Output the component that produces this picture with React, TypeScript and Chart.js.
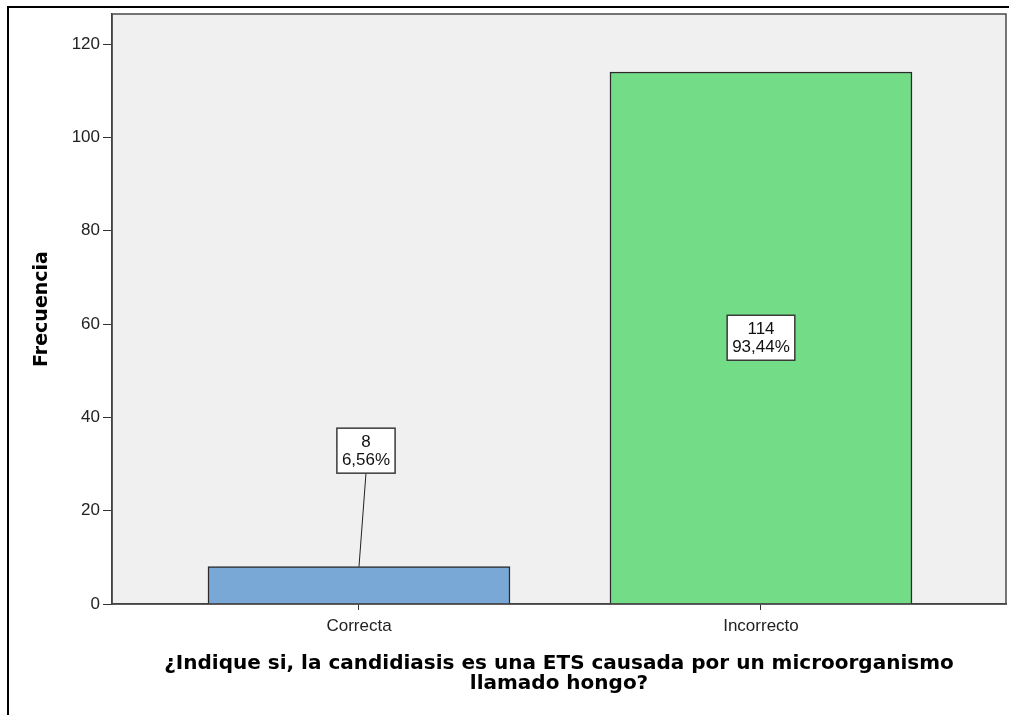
import React, { useEffect, useRef } from 'react';
import { Chart, registerables } from 'chart.js';

Chart.register(...registerables);

const categories = ['Correcta', 'Incorrecto'];
const frequencies = [8, 114];
const percentages = ['6,56%', '93,44%'];
const barColors = ['#79A8D7', '#72DC86'];
const yTickValues = [0, 20, 40, 60, 80, 100, 120];
const yTitle = 'Frecuencia';
const xTitle = ['¿Indique si, la candidiasis es una ETS causada por un microorganismo', 'llamado hongo?'];

const W = 1009;
const H = 715;

const plotFrame = {
  id: 'plotFrame',
  beforeDraw(chart: any) {
    const { ctx, chartArea: a } = chart;
    ctx.save();
    ctx.fillStyle = '#F0F0F0';
    ctx.fillRect(a.left, a.top, a.right - a.left, a.bottom - a.top);
    ctx.restore();
  },
  afterDraw(chart: any) {
    const { ctx, chartArea: a } = chart;
    ctx.save();
    ctx.strokeStyle = '#4a4a4a';
    ctx.lineWidth = 1.5;
    ctx.strokeRect(a.left, a.top, a.right - a.left, a.bottom - a.top);
    ctx.restore();
  },
};

const boxLabels = {
  id: 'boxLabels',
  afterDatasetsDraw(chart: any) {
    const { ctx } = chart;
    const meta = chart.getDatasetMeta(0);
    ctx.save();
    ctx.font = '17px "Liberation Sans", Arial, sans-serif';
    ctx.textAlign = 'center';
    ctx.textBaseline = 'middle';
    meta.data.forEach((bar: any, i: number) => {
      const lines = [String(frequencies[i]), percentages[i]];
      const tw = Math.max(...lines.map((l) => ctx.measureText(l).width));
      const lh = 18;
      const bw = tw + 10;
      const bh = lines.length * lh + 9;
      const barH = bar.base - bar.y;
      let cx = bar.x;
      let cy = (bar.y + bar.base) / 2;
      const outside = barH < bh * 2;
      if (outside) {
        cx = bar.x + 7;
        cy = bar.y - 116;
        ctx.strokeStyle = '#222';
        ctx.lineWidth = 1;
        ctx.beginPath();
        ctx.moveTo(cx, cy + bh / 2);
        ctx.lineTo(bar.x, bar.y);
        ctx.stroke();
      }
      ctx.fillStyle = '#FFFFFF';
      ctx.fillRect(cx - bw / 2, cy - bh / 2, bw, bh);
      ctx.strokeStyle = '#3a3a3a';
      ctx.lineWidth = 1.5;
      ctx.strokeRect(cx - bw / 2, cy - bh / 2, bw, bh);
      ctx.fillStyle = '#111';
      lines.forEach((l, k) => {
        ctx.fillText(l, cx, cy - ((lines.length - 1) * lh) / 2 + k * lh + 1);
      });
    });
    ctx.restore();
  },
};

export default function App() {
  const ref = useRef<HTMLCanvasElement | null>(null);

  useEffect(() => {
    if (!ref.current) return;
    const chart = new Chart(ref.current, {
      type: 'bar',
      data: {
        datasets: [
          {
            data: categories.map((c, i) => ({ x: i, y: frequencies[i] })),
            backgroundColor: barColors,
            borderColor: '#2b2b2b',
            borderWidth: 1.5,
            barThickness: 302,
          } as any,
        ],
      },
      options: {
        responsive: false,
        animation: false,
        layout: { padding: { left: 0, top: 14, right: 3, bottom: 0 } },
        plugins: {
          legend: { display: false },
          tooltip: { enabled: false },
        },
        scales: {
          x: {
            type: 'linear',
            min: -0.6144,
            max: 1.6095,
            offset: false,
            afterBuildTicks: (s: any) => {
              s.ticks = categories.map((c, i) => ({ value: i }));
            },
            afterFit: (s: any) => {
              s.height = 111;
            },
            ticks: {
              callback: (v: any) => categories[v] ?? '',
              font: { family: '"Liberation Sans", Arial, sans-serif', size: 17 },
              color: '#222',
              padding: 6,
              maxRotation: 0,
              autoSkip: false,
            },
            grid: { offset: false, drawOnChartArea: false, drawTicks: true, tickLength: 6, color: '#333' },
            border: { display: true, color: '#333', width: 1.5 },
            title: {
              display: true,
              text: xTitle,
              color: '#000',
              font: { family: '"DejaVu Sans", sans-serif', size: 20, weight: 'bold', lineHeight: '20px' },
              padding: { top: 0, bottom: 21 },
            },
          },
          y: {
            min: 0,
            max: 126.43,
            afterBuildTicks: (s: any) => {
              s.ticks = yTickValues.map((v) => ({ value: v }));
            },
            afterFit: (s: any) => {
              s.width = 112;
            },
            ticks: {
              font: { family: '"Liberation Sans", Arial, sans-serif', size: 17 },
              color: '#222',
              padding: 3,
            },
            grid: { drawOnChartArea: false, drawTicks: true, tickLength: 9, color: '#333' },
            border: { display: true, color: '#333', width: 1.5 },
            title: {
              display: true,
              text: yTitle,
              color: '#000',
              font: { family: '"DejaVu Sans", sans-serif', size: 19, weight: 'bold', lineHeight: '20px' },
              padding: { top: 32, bottom: 0 },
            },
          },
        },
      } as any,
      plugins: [plotFrame, boxLabels],
    });
    return () => chart.destroy();
  }, []);

  return (
    <div style={{ position: 'fixed', left: 0, top: 0, width: W, height: H, background: '#fff', overflow: 'hidden' }}>
      <div
        style={{
          position: 'absolute',
          left: 7,
          top: 6,
          width: W,
          height: H,
          borderLeft: '2px solid #000',
          borderTop: '2px solid #000',
        }}
      />
      <canvas ref={ref} width={W} height={H} style={{ position: 'absolute', left: 0, top: 0 }} />
    </div>
  );
}
